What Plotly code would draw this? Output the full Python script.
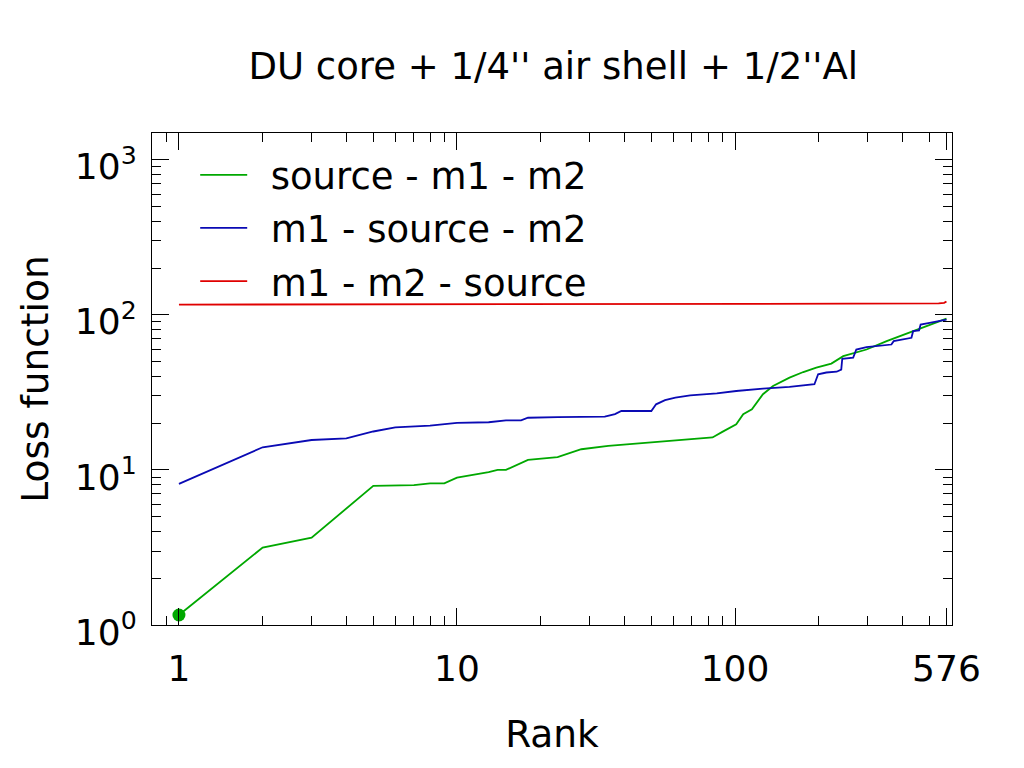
import numpy as np
import plotly.graph_objects as go

# values
green_rank = [1, 2, 3, 5, 7, 8, 9, 10, 13, 14, 15, 18, 23, 26, 28, 35, 51, 67, 83, 90,
              101, 107, 115, 126, 137, 157, 176, 196, 222, 245, 297, 351, 437, 501, 576]
green_loss = [1.16, 3.16, 3.66, 7.89, 7.97, 8.2, 8.2, 8.92, 9.67, 10.0, 10.0, 11.6, 12.1, 13.0, 13.6,
              14.3, 15.1, 15.8, 16.2, 17.6, 19.7, 22.9, 24.6, 30.8, 34.8, 39.4, 42.8, 45.7, 48.5,
              54.2, 59.8, 67.7, 78.5, 86.6, 94.7]

blue_rank = [1, 2, 3, 4, 5, 6, 8, 10, 13, 15, 17, 18, 23, 34, 37, 39, 50, 52, 56, 61,
             69, 86, 101, 126, 157, 193, 199, 213, 232, 241, 243, 266, 273, 297, 365, 372,
             431, 437, 459, 465, 501, 576]
blue_loss = [8.13, 14.0, 15.6, 16.0, 17.7, 18.8, 19.3, 20.1, 20.3, 20.9, 20.9, 21.7, 21.9, 22.1,
             22.9, 24.0, 24.0, 26.5, 28.2, 29.3, 30.3, 31.2, 32.3, 33.5, 34.3, 35.7, 41.4, 42.5,
             43.0, 44.4, 52.1, 53.0, 59.8, 61.9, 64.4, 67.7, 71.2, 78.5, 79.5, 86.6, 88.9, 93.3]

red_rank = [1, 119, 120, 540, 565, 576]
red_loss = [116.5, 116.5, 117.7, 118.5, 119.5, 122.0]

x_ticks = [1, 10, 100, 576]
x_labels = ["1", "10", "100", "576"]
y_ticks = [1, 10, 100, 1000]
y_labels = ["10<sup>0</sup>", "10<sup>1</sup>", "10<sup>2</sup>", "10<sup>3</sup>"]

x_minor = [d * m for d in (0.1, 1, 10, 100) for m in range(2, 10) if 0.8 <= d * m <= 600 and d * m not in x_ticks]
y_minor = [d * m for d in (1, 10, 100) for m in range(2, 10)]

font = "DejaVu Sans"
gap = "\u2002"  # small gap between legend line and text

fig = go.Figure()
fig.add_trace(go.Scatter(x=green_rank, y=green_loss, mode='lines', name=gap + 'source - m1 - m2',
                         line=dict(color='#00a800', width=1.8), legendgroup='g'))
fig.add_trace(go.Scatter(x=blue_rank, y=blue_loss, mode='lines', name=gap + 'm1 - source - m2',
                         line=dict(color='#0a0ab4', width=1.8), legendgroup='b'))
fig.add_trace(go.Scatter(x=red_rank, y=red_loss, mode='lines', name=gap + 'm1 - m2 - source',
                         line=dict(color='#e00000', width=1.8), legendgroup='r'))
fig.add_trace(go.Scatter(x=green_rank[:1], y=green_loss[:1], mode='markers', showlegend=False,
                         marker=dict(color='#00a800', size=13)))

axis_common = dict(
    showline=True, linecolor='black', linewidth=1.2, mirror='allticks',
    ticks='inside', ticklen=17, tickwidth=1, tickcolor='black',
    showgrid=False, zeroline=False,
    tickfont=dict(family=font, size=36, color='black'),
)

fig.update_xaxes(
    type='log', range=[np.log10(0.8), np.log10(603)],
    tickmode='array', tickvals=x_ticks, ticktext=x_labels,
    minor=dict(tickmode='array', tickvals=x_minor, ticks='inside', ticklen=9, tickcolor='black', showgrid=False),
    title=dict(text='Rank', font=dict(family=font, size=37.5, color='black'), standoff=32),
    ticklabelstandoff=12,
    **axis_common
)
fig.update_yaxes(
    type='log', range=[0, 3.173],
    tickmode='array', tickvals=y_ticks, ticktext=y_labels,
    minor=dict(tickmode='array', tickvals=y_minor, ticks='inside', ticklen=9, tickcolor='black', showgrid=False),
    title=dict(text='Loss function', font=dict(family=font, size=37.5, color='black'), standoff=14),
    ticklabelstandoff=7, ticklabelshift=7,
    **axis_common
)

# page body has an 8px margin, so the figure is a bit smaller than the window
fig.update_layout(
    width=1008, height=752,
    margin=dict(l=144, r=64, t=125, b=129),
    paper_bgcolor='white', plot_bgcolor='white',
    title=dict(text="DU core + 1/4'' air shell + 1/2''Al", x=0.541, xanchor='center', y=0.923, yanchor='middle',
               font=dict(family=font, size=37, color='black')),
    legend=dict(x=0.054, y=0.977, xanchor='left', yanchor='top', bgcolor='rgba(0,0,0,0)',
                font=dict(family=font, size=37, color='black'), traceorder='grouped', tracegroupgap=2,
                itemwidth=47),
    showlegend=True,
)

fig.write_html("out.html")
